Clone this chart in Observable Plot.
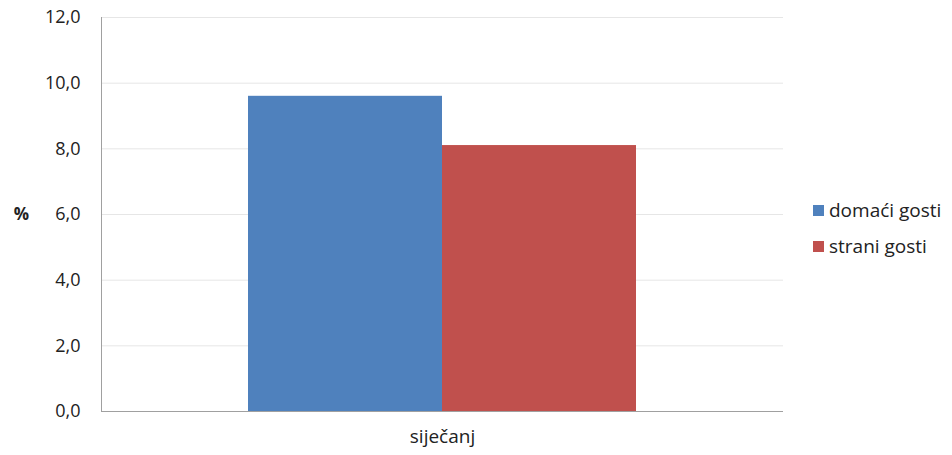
<!DOCTYPE html>
<html>
<head>
<meta charset="utf-8">
<script src="https://cdn.jsdelivr.net/npm/d3@7"></script>
<script src="https://cdn.jsdelivr.net/npm/@observablehq/plot@0.6"></script>
<style>
  html, body { margin: 0; padding: 0; background: #fff; }
  #wrap { position: relative; width: 952px; height: 455px; font-family: "Open Sans", Lato, sans-serif; }
  #legend { position: absolute; left: 813px; top: 192px; font-size: 19px; color: #222; }
  .item { display: flex; align-items: center; height: 36px; }
  .sw { width: 11px; height: 11px; margin-right: 5px; }
</style>
</head>
<body>
<div id="wrap"><div id="chart"></div><div id="legend"></div></div>
<script>
const categories = ["siječanj"];
const series = ["domaći gosti", "strani gosti"];
const values = [9.6, 8.1];
const colors = ["#4f81bd", "#c0504d"];
const yTicks = [0, 2, 4, 6, 8, 10, 12];

const data = series.map((s, i) => ({month: categories[0], series: s, value: values[i]}));
const fmt = d => d.toFixed(1).replace(".", ",");

const chart = Plot.plot({
  width: 800,
  height: 455,
  marginTop: 17,
  marginBottom: 44,
  marginLeft: 101,
  marginRight: 17,
  style: {fontFamily: "'Open Sans', Lato, sans-serif", fontSize: "16px", color: "#222"},
  fx: {domain: categories, padding: 0, label: null},
  x: {domain: series, paddingInner: 0, paddingOuter: 0.75, axis: null},
  y: {domain: [0, 12], ticks: yTicks, label: null},
  color: {domain: series, range: colors},
  marks: [
    Plot.gridY(yTicks, {stroke: "#e6e6e6", strokeOpacity: 1}),
    Plot.barY(data, {fx: "month", x: "series", y: "value", fill: "series"}),
    Plot.frame({anchor: "left", stroke: "#a0a0a0"}),
    Plot.ruleY([0], {stroke: "#a0a0a0"}),
    Plot.axisY(yTicks, {tickSize: 0, tickPadding: 21, tickFormat: fmt, fontSize: 18}),
    Plot.axisFx({anchor: "bottom", tickSize: 0, tickPadding: 18, label: null, fontSize: 19}),
    Plot.text(["%"], {frameAnchor: "left", textAnchor: "middle", dx: -80, fontWeight: "bold", fontSize: 17})
  ]
});
document.getElementById("chart").appendChild(chart);

const legend = document.getElementById("legend");
series.forEach((s, i) => {
  const it = document.createElement("div");
  it.className = "item";
  it.innerHTML = `<span class="sw" style="background:${colors[i]}"></span><span>${s}</span>`;
  legend.appendChild(it);
});
</script>
</body>
</html>
